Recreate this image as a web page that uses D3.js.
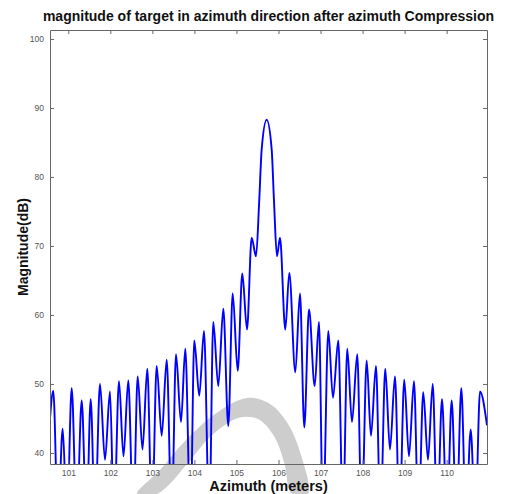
<!DOCTYPE html>
<html>
<head>
<meta charset="utf-8">
<script src="https://cdn.jsdelivr.net/npm/d3@7"></script>
<style>
  body { margin: 0; background: #fff; }
  svg { display: block; font-family: "Liberation Sans", Arial, sans-serif; }
  .axis text { font-size: 8.5px; fill: #555; }
  .axis path, .axis line { stroke: #666; }
</style>
</head>
<body>
<svg id="svg" width="507" height="494"></svg>
<script>
// lobe peaks and nulls (azimuth in m, magnitude in dB)
// nulls deeper than the axis floor are given as 30 dB and get clipped
const azimuth = [
  100.565, 100.643, 100.755, 100.867, 100.969, 101.081, 101.200, 101.319, 101.433, 101.533,
  101.635, 101.754, 101.873, 101.992, 102.087, 102.206, 102.313, 102.427, 102.546, 102.651,
  102.765, 102.879, 102.991, 103.103, 103.222, 103.341, 103.460, 103.562, 103.681, 103.783,
  103.907, 103.997, 104.116, 104.228, 104.354, 104.449, 104.568, 104.687, 104.806, 104.911,
  105.030, 105.139, 105.251, 105.362, 105.465, 105.543, 105.600, 105.719, 105.838, 105.892,
  105.964, 106.036, 106.162, 106.257, 106.400, 106.511, 106.614, 106.726, 106.861, 106.963,
  107.059, 107.185, 107.296, 107.423, 107.534, 107.636, 107.748, 107.874, 107.979, 108.098,
  108.200, 108.319, 108.426, 108.540, 108.652, 108.771, 108.878, 108.992, 109.104, 109.223,
  109.330, 109.444, 109.556, 109.668, 109.777, 109.889, 110.008, 110.120, 110.234, 110.349,
  110.460, 110.572, 110.682, 110.794, 110.960
];
const magnitude = [
  45.0, 49.0, 30, 43.5, 30, 49.4, 30, 47.6, 30, 47.8,
  30, 50.0, 39.0, 48.9, 30, 50.4, 39.5, 50.5, 30, 51.1,
  40.5, 52.2, 30, 52.6, 42.5, 53.5, 30, 54.3, 44.5, 55.1,
  30, 56.3, 48.3, 57.7, 30, 59.0, 49.7, 60.9, 43.9, 63.1,
  51.9, 66.0, 57.9, 71.2, 68.5, 76.7, 84.0, 88.3, 84.0, 76.7,
  68.5, 71.2, 57.9, 66.1, 51.7, 63.1, 43.7, 60.8, 49.7, 59.0,
  30, 57.7, 48.0, 56.3, 30, 55.1, 44.5, 54.3, 30, 53.4,
  42.5, 52.6, 30, 52.2, 40.5, 51.1, 30, 50.6, 39.5, 50.4,
  30, 48.8, 39.0, 50.0, 30, 47.8, 30, 47.6, 30, 49.4,
  30, 43.4, 30, 48.9, 44.0
];
const xTicks = [101, 102, 103, 104, 105, 106, 107, 108, 109, 110];
const yTicks = [40, 50, 60, 70, 80, 90, 100];
const xDomain = [100.565, 110.96];
const yDomain = [38.4, 101.3];

const margin = {top: 30, right: 20, bottom: 30, left: 50};
const W = 507, H = 494;
const width = W - margin.left - margin.right;
const height = H - margin.top - margin.bottom;

const svg = d3.select('#svg');

// faint grey watermark stroke behind the chart
const wm = [[137,494],[160,470],[186,440],[215,414],[247,398],[270,404],[288,424],[300,452],[308,494],
            [292,494],[284,462],[274,436],[258,419],[238,418],[210,437],[188,463],[157,494]];
svg.append('path')
  .attr('d', d3.line().curve(d3.curveCatmullRomClosed)(wm))
  .attr('fill', '#cdcdcd');

const g = svg.append('g').attr('transform', `translate(${margin.left},${margin.top})`);

const x = d3.scaleLinear().domain(xDomain).range([0, width]);
const y = d3.scaleLinear().domain(yDomain).range([height, 0]);

g.append('clipPath').attr('id', 'clip')
  .append('rect').attr('width', width).attr('height', height);

const pts = azimuth.map((a, i) => [a, magnitude[i]]);
g.append('path')
  .datum(pts)
  .attr('clip-path', 'url(#clip)')
  .attr('fill', 'none')
  .attr('stroke', '#0000ff')
  .attr('stroke-width', 1.9)
  .attr('stroke-linejoin', 'round')
  .attr('d', d3.line().x(d => x(d[0])).y(d => y(d[1])).curve(d3.curveMonotoneX));

// box axes, ticks pointing inwards like matlab
g.append('g').attr('class', 'axis')
  .attr('transform', `translate(0,${height})`)
  .call(d3.axisBottom(x).tickValues(xTicks).tickFormat(d3.format('d')).tickSizeInner(-4).tickSizeOuter(0).tickPadding(6));
g.append('g').attr('class', 'axis')
  .call(d3.axisTop(x).tickValues(xTicks).tickFormat('').tickSizeInner(-4).tickSizeOuter(0));
g.append('g').attr('class', 'axis')
  .call(d3.axisLeft(y).tickValues(yTicks).tickFormat(d3.format('d')).tickSizeInner(-4).tickSizeOuter(0).tickPadding(6));
g.append('g').attr('class', 'axis')
  .attr('transform', `translate(${width},0)`)
  .call(d3.axisRight(y).tickValues(yTicks).tickFormat('').tickSizeInner(-4).tickSizeOuter(0));

// titles
svg.append('text')
  .attr('x', margin.left + width / 2).attr('y', 21)
  .attr('text-anchor', 'middle')
  .style('font-size', '14px').style('font-weight', 'bold').attr('fill', '#111')
  .text('magnitude of target in azimuth direction after azimuth Compression');

svg.append('text')
  .attr('x', margin.left + width / 2).attr('y', 491)
  .attr('text-anchor', 'middle')
  .style('font-size', '14.5px').style('font-weight', 'bold').attr('fill', '#111')
  .text('Azimuth (meters)');

svg.append('text')
  .attr('transform', `translate(28,${margin.top + height / 2}) rotate(-90)`)
  .attr('text-anchor', 'middle')
  .style('font-size', '14px').style('font-weight', 'bold').attr('fill', '#111')
  .text('Magnitude(dB)');
</script>
</body>
</html>
